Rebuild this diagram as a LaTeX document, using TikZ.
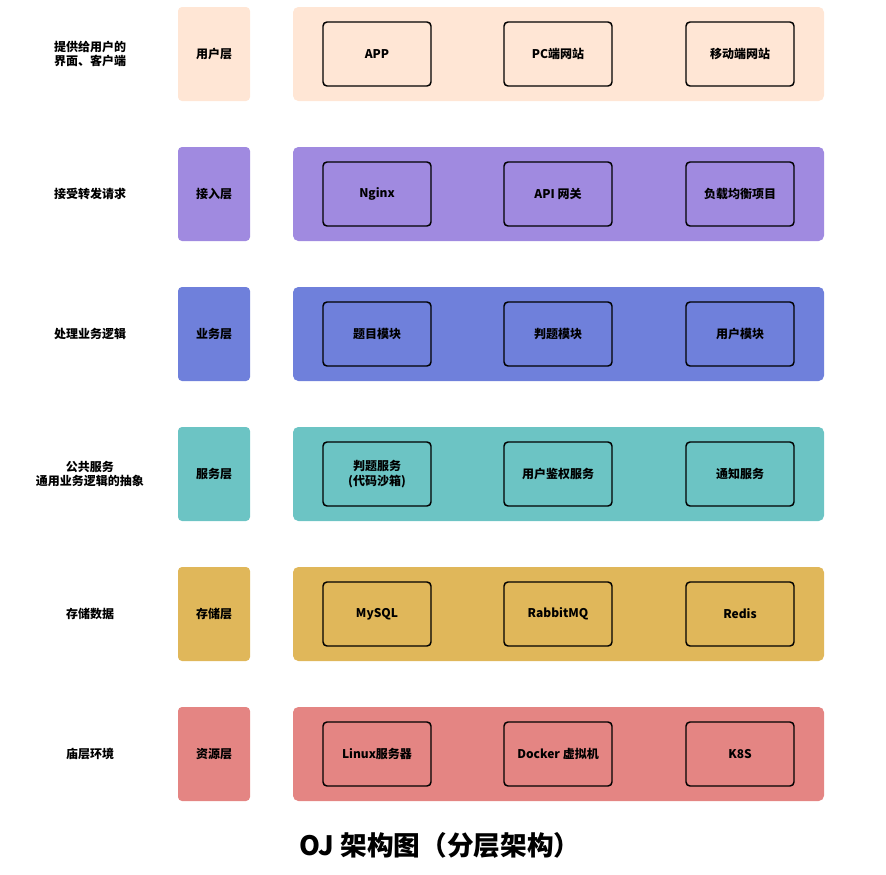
\documentclass[tikz,border=0pt]{standalone}
\usepackage{fontspec}
\setmainfont{Noto Sans CJK SC}
\definecolor{cUser}{HTML}{FFE6D5}
\definecolor{cAccess}{HTML}{A08AE0}
\definecolor{cLogic}{HTML}{6F80DB}
\definecolor{cService}{HTML}{6CC4C4}
\definecolor{cStore}{HTML}{E0B75A}
\definecolor{cRes}{HTML}{E48583}
\tikzstyle{layer} = [rectangle, rounded corners=3pt, minimum width=72*0.75pt, minimum height=94*0.75pt, text centered, font=\bfseries\small]
\tikzstyle{band} = [rectangle, rounded corners=4pt, minimum width=531*0.75pt, minimum height=94*0.75pt]
\tikzstyle{module} = [rectangle, rounded corners=3pt, minimum width=108*0.75pt, minimum height=64*0.75pt, text centered, draw=black, line width=1.1pt, font=\bfseries\small, align=center]
\tikzstyle{note} = [text centered, align=center, font=\bfseries\small]

\begin{document}
\begin{tikzpicture}[x=0.75pt,y=-0.75pt]
			\useasboundingbox (0,0) rectangle (886,875);
			\foreach \y/\c/\lname/\note/\a/\b/\d [count=\i] in {
				54/cUser/用户层/{提供给用户的\\界面、客户端}/APP/PC端网站/移动端网站,
				194/cAccess/接入层/接受转发请求/Nginx/API 网关/负载均衡项目,
				334/cLogic/业务层/处理业务逻辑/题目模块/判题模块/用户模块,
				474/cService/服务层/{公共服务\\通用业务逻辑的抽象}/{判题服务\\(代码沙箱)}/用户鉴权服务/通知服务,
				614/cStore/存储层/存储数据/MySQL/RabbitMQ/Redis,
				754/cRes/资源层/庙层环境/Linux服务器/Docker 虚拟机/K8S}{
				\node (note\i) [note] at (90,\y) {\note};
				\node (layer\i) [layer, fill=\c] at (214,\y) {\lname};
				\node (band\i) [band, fill=\c] at (558.5,\y) {};
				\node (modA\i) [module, fill=\c] at (377,\y) {\a};
				\node (modB\i) [module, fill=\c] at (558,\y) {\b};
				\node (modC\i) [module, fill=\c] at (740,\y) {\d};
			}
			\node (title) [font=\bfseries\fontsize{20}{24}\selectfont] at (440,845) {OJ 架构图（分层架构）};
		\end{tikzpicture}
\end{document}
